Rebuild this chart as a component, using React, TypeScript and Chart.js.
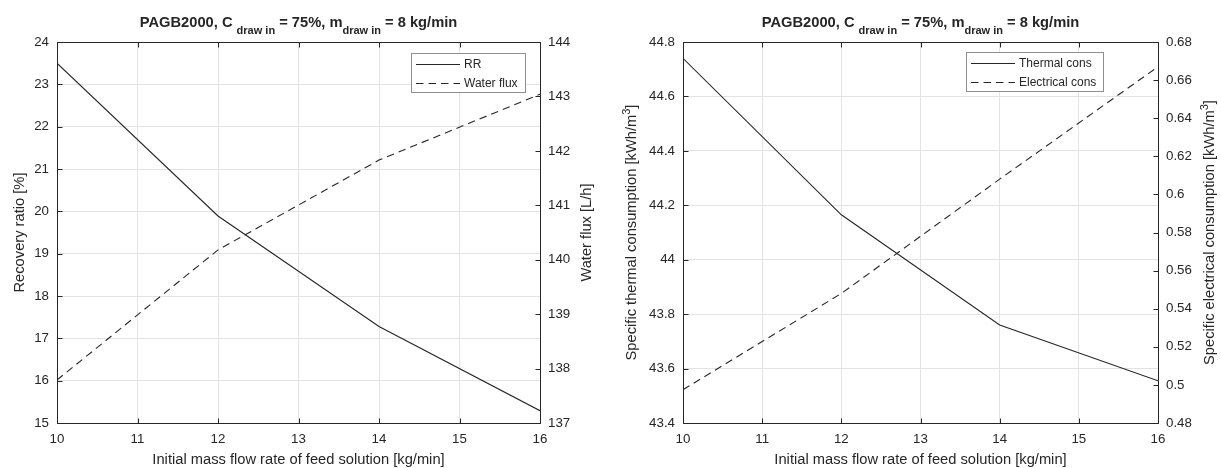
import React, { useEffect, useRef } from "react";
import { Chart, registerables } from "chart.js";

Chart.register(...registerables);

// Initial mass flow rate of feed solution [kg/min]
const feedFlow = [10, 12, 14, 16];

// Left panel: recovery ratio [%] and water flux [L/h]
const recoveryRatio = [23.5, 19.89, 17.28, 15.29];
const waterFlux = [137.79, 140.18, 141.83, 143.04];

// Right panel: specific thermal / electrical consumption [kWh/m3]
const thermalCons = [44.74, 44.165, 43.76, 43.555];
const electricalCons = [0.4975, 0.548, 0.608, 0.667];

// Tick values
const xTickValues = [10, 11, 12, 13, 14, 15, 16];
const rrTicks = [15, 16, 17, 18, 19, 20, 21, 22, 23, 24];
const fluxTicks = [137, 138, 139, 140, 141, 142, 143, 144];
const thermalTicks = [43.4, 43.6, 43.8, 44, 44.2, 44.4, 44.6, 44.8];
const electricalTicks = [0.48, 0.5, 0.52, 0.54, 0.56, 0.58, 0.6, 0.62, 0.64, 0.66, 0.68];

const FONT = '"Liberation Sans", Arial, Helvetica, sans-serif';
const INK = "#262626";
const GRID = "#e3e3e3";
const LINE = "#262626";
const DASH = [7.5, 5];

type Seg = { text: string; size: number; bold?: boolean; dy?: number };

const fontOf = (s: Seg) => `${s.bold ? "bold " : ""}${s.size}px ${FONT}`;

// Draws a run of text pieces (with sub/superscripts) centred on (cx, baseline cy)
function drawRich(ctx: CanvasRenderingContext2D, segs: Seg[], cx: number, cy: number, rotated: boolean) {
  ctx.save();
  ctx.translate(cx, cy);
  if (rotated) ctx.rotate(-Math.PI / 2);
  ctx.fillStyle = INK;
  ctx.textAlign = "left";
  ctx.textBaseline = "alphabetic";
  const widths = segs.map((s) => {
    ctx.font = fontOf(s);
    return ctx.measureText(s.text).width;
  });
  const total = widths.reduce((a, b) => a + b, 0);
  let x = -total / 2;
  segs.forEach((s, i) => {
    ctx.font = fontOf(s);
    ctx.fillText(s.text, x, s.dy ?? 0);
    x += widths[i];
  });
  ctx.restore();
}

const fmt = (v: number) => String(Math.round(v * 1000) / 1000);

const titleSegs: Seg[] = [
  { text: "PAGB2000, C ", size: 14.7, bold: true },
  { text: "draw in", size: 11, bold: true, dy: 7 },
  { text: " = 75%, m", size: 14.7, bold: true },
  { text: "draw in", size: 11, bold: true, dy: 7 },
  { text: " = 8 kg/min", size: 14.7, bold: true },
];

const xTitle = "Initial mass flow rate of feed solution [kg/min]";

interface PanelSpec {
  width: number;
  leftW: number;
  rightW: number;
  topPad: number;
  leftValues: number[];
  rightValues: number[];
  leftLabel: string;
  rightLabel: string;
  leftTicks: number[];
  rightTicks: number[];
  leftTitle: Seg[];
  rightTitle: Seg[];
  leftTitleX: number;
  rightTitleX: number;
  legendLeft: number;
  legendTop: number;
}

const tickFont = { family: FONT, size: 13.3 };

function makeChart(canvas: HTMLCanvasElement, p: PanelSpec) {
  const textPlugin = {
    id: "panelText",
    afterDraw(chart: any) {
      const ctx: CanvasRenderingContext2D = chart.ctx;
      const a = chart.chartArea;
      const midX = (a.left + a.right) / 2;
      const midY = (a.top + a.bottom) / 2;
      drawRich(ctx, titleSegs, midX, 27, false);
      drawRich(ctx, [{ text: xTitle, size: 14.7 }], midX, 464, false);
      drawRich(ctx, p.leftTitle, p.leftTitleX, midY, true);
      drawRich(ctx, p.rightTitle, p.rightTitleX, midY, true);
    },
  };

  // Box outline with inward-pointing tick marks on all four sides
  const framePlugin = {
    id: "panelFrame",
    afterDatasetsDraw(chart: any) {
      const ctx: CanvasRenderingContext2D = chart.ctx;
      const a = chart.chartArea;
      const L = Math.round(a.left) + 0.5;
      const R = Math.round(a.right) + 0.5;
      const T = Math.round(a.top) + 0.5;
      const B = Math.round(a.bottom) + 0.5;
      const len = 5;
      ctx.save();
      ctx.strokeStyle = INK;
      ctx.lineWidth = 1;
      ctx.beginPath();
      ctx.rect(L, T, R - L, B - T);
      const xs = chart.scales.x;
      xTickValues.forEach((v) => {
        const px = Math.round(xs.getPixelForValue(v)) + 0.5;
        ctx.moveTo(px, B);
        ctx.lineTo(px, B - len);
        ctx.moveTo(px, T);
        ctx.lineTo(px, T + len);
      });
      const ys = chart.scales.y;
      p.leftTicks.forEach((v) => {
        const py = Math.round(ys.getPixelForValue(v)) + 0.5;
        ctx.moveTo(L, py);
        ctx.lineTo(L + len, py);
      });
      const y1 = chart.scales.y1;
      p.rightTicks.forEach((v) => {
        const py = Math.round(y1.getPixelForValue(v)) + 0.5;
        ctx.moveTo(R, py);
        ctx.lineTo(R - len, py);
      });
      ctx.stroke();
      ctx.restore();
    },
  };

  const legendPlugin = {
    id: "panelLegend",
    afterDraw(chart: any) {
      const ctx: CanvasRenderingContext2D = chart.ctx;
      const ds = chart.data.datasets;
      ctx.save();
      ctx.font = `12px ${FONT}`;
      const textW = Math.max(...ds.map((d: any) => ctx.measureText(d.label).width));
      const padL = 5;
      const lineLen = 44;
      const gap = 4;
      const padR = 7;
      const rowH = 18.5;
      const boxW = Math.round(padL + lineLen + gap + textW + padR);
      const boxH = 39;
      const bx = p.legendLeft;
      const by = p.legendTop;
      ctx.fillStyle = "#ffffff";
      ctx.fillRect(bx, by, boxW, boxH);
      ctx.strokeStyle = "#8f8f8f";
      ctx.lineWidth = 1;
      ctx.strokeRect(bx + 0.5, by + 0.5, boxW, boxH);
      ds.forEach((d: any, i: number) => {
        const ry = Math.round(by + 11 + i * rowH) + 0.5;
        ctx.strokeStyle = d.borderColor;
        ctx.lineWidth = 1;
        ctx.setLineDash(d.borderDash || []);
        ctx.beginPath();
        ctx.moveTo(bx + padL, ry);
        ctx.lineTo(bx + padL + lineLen, ry);
        ctx.stroke();
        ctx.setLineDash([]);
        ctx.fillStyle = INK;
        ctx.textBaseline = "middle";
        ctx.textAlign = "left";
        ctx.fillText(d.label, bx + padL + lineLen + gap, ry + 0.5);
      });
      ctx.restore();
    },
  };

  const setTicks = (vals: number[]) => (scale: any) => {
    scale.ticks = vals.map((v) => ({ value: v }));
  };

  return new Chart(canvas, {
    type: "line",
    data: {
      datasets: [
        {
          label: p.leftLabel,
          data: feedFlow.map((x, i) => ({ x, y: p.leftValues[i] })),
          yAxisID: "y",
          borderColor: LINE,
          borderWidth: 1.1,
          pointRadius: 0,
          fill: false,
          tension: 0,
        },
        {
          label: p.rightLabel,
          data: feedFlow.map((x, i) => ({ x, y: p.rightValues[i] })),
          yAxisID: "y1",
          borderColor: LINE,
          borderWidth: 1.1,
          borderDash: DASH,
          pointRadius: 0,
          fill: false,
          tension: 0,
        },
      ],
    },
    options: {
      responsive: false,
      animation: false,
      events: [],
      layout: { padding: { top: p.topPad, left: 0, right: 0, bottom: 0 } },
      plugins: {
        legend: { display: false },
        tooltip: { enabled: false },
        title: { display: false },
      },
      scales: {
        x: {
          type: "linear",
          min: 10,
          max: 16,
          afterBuildTicks: setTicks(xTickValues),
          afterFit: (s: any) => {
            s.height = 45;
          },
          grid: { color: GRID, drawTicks: false, lineWidth: 1 },
          border: { display: false },
          ticks: { font: tickFont, color: INK, padding: 8, maxRotation: 0, autoSkip: false, callback: (v: any) => fmt(Number(v)) },
        },
        y: {
          type: "linear",
          position: "left",
          min: p.leftTicks[0],
          max: p.leftTicks[p.leftTicks.length - 1],
          afterBuildTicks: setTicks(p.leftTicks),
          afterFit: (s: any) => {
            s.width = p.leftW;
          },
          grid: { color: GRID, drawTicks: false, lineWidth: 1 },
          border: { display: false },
          ticks: { font: tickFont, color: INK, padding: 8, autoSkip: false, callback: (v: any) => fmt(Number(v)) },
        },
        y1: {
          type: "linear",
          position: "right",
          min: p.rightTicks[0],
          max: p.rightTicks[p.rightTicks.length - 1],
          afterBuildTicks: setTicks(p.rightTicks),
          afterFit: (s: any) => {
            s.width = p.rightW;
          },
          grid: { display: false, drawTicks: false },
          border: { display: false },
          ticks: { font: tickFont, color: INK, padding: 8, autoSkip: false, callback: (v: any) => fmt(Number(v)) },
        },
      },
    } as any,
    plugins: [framePlugin, legendPlugin, textPlugin],
  } as any);
}

const leftPanel: PanelSpec = {
  width: 610,
  leftW: 57,
  rightW: 70,
  topPad: 42,
  leftValues: recoveryRatio,
  rightValues: waterFlux,
  leftLabel: "RR",
  rightLabel: "Water flux",
  leftTicks: rrTicks,
  rightTicks: fluxTicks,
  leftTitle: [{ text: "Recovery ratio [%]", size: 14.7 }],
  rightTitle: [{ text: "Water flux [L/h]", size: 14.7 }],
  leftTitleX: 24,
  rightTitleX: 591,
  legendLeft: 411,
  legendTop: 53,
};

const rightPanel: PanelSpec = {
  width: 611,
  leftW: 73,
  rightW: 63,
  topPad: 42,
  leftValues: thermalCons,
  rightValues: electricalCons,
  leftLabel: "Thermal cons",
  rightLabel: "Electrical cons",
  leftTicks: thermalTicks,
  rightTicks: electricalTicks,
  leftTitle: [
    { text: "Specific thermal consumption [kWh/m", size: 14.7 },
    { text: "3", size: 11, dy: -6 },
    { text: "]", size: 14.7 },
  ],
  rightTitle: [
    { text: "Specific electrical consumption [kWh/m", size: 14.7 },
    { text: "3", size: 11, dy: -6 },
    { text: "]", size: 14.7 },
  ],
  leftTitleX: 26,
  rightTitleX: 604,
  legendLeft: 356,
  legendTop: 52,
};

function Panel({ spec, left }: { spec: PanelSpec; left: number }) {
  const ref = useRef<HTMLCanvasElement | null>(null);
  useEffect(() => {
    if (!ref.current) return;
    const chart = makeChart(ref.current, spec);
    return () => chart.destroy();
  }, [spec]);
  return (
    <canvas
      ref={ref}
      width={spec.width}
      height={468}
      style={{ position: "absolute", left, top: 0, width: spec.width, height: 468, display: "block" }}
    />
  );
}

export default function App() {
  return (
    <div style={{ position: "fixed", left: 0, top: 0, width: 1221, height: 468, background: "#ffffff", overflow: "hidden" }}>
      <Panel spec={leftPanel} left={0} />
      <Panel spec={rightPanel} left={610} />
    </div>
  );
}
